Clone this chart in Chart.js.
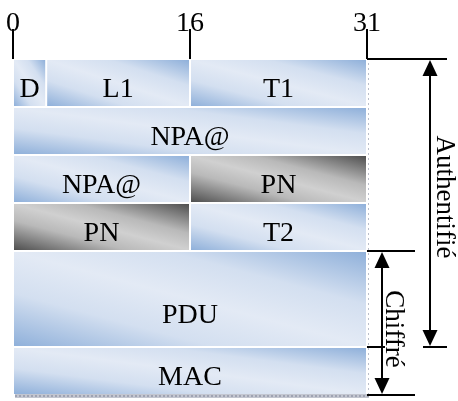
<!DOCTYPE html>
<html>
<head>
<meta charset="utf-8">
<title>Format de trame</title>
<script src="https://cdn.jsdelivr.net/npm/chart.js@4.4.1/dist/chart.umd.min.js"></script>
<style>
  html, body { margin: 0; padding: 0; background: #fff; }
  #frame { width: 458px; height: 401px; }
</style>
</head>
<body>
<div id="frame"><canvas id="trame" width="458" height="401"></canvas></div>
<script>
// Champs de la trame : bits 0..31 en x, lignes de 32 bits en y
const fieldLabels   = ['D', 'L1', 'T1', 'NPA@', 'NPA@', 'PN', 'PN', 'T2', 'PDU', 'MAC'];
const fieldBitStart = [0, 3, 16, 0, 0, 16, 0, 16, 0, 0];
const fieldBitEnd   = [3, 16, 32, 32, 16, 32, 16, 32, 32, 32];
const fieldRowStart = [0, 0, 0, 1, 2, 2, 3, 3, 4, 6];
const fieldRowEnd   = [1, 1, 1, 2, 3, 3, 4, 4, 6, 7];
const grayFields    = ['PN'];

// Graduations du haut
const bitTicks      = [0, 16, 32];
const bitTickLabels = ['0', '16', '31'];

// Zones authentifiée / chiffrée (en lignes)
const spanLabels = ['Authentifié', 'Chiffré'];
const spanStart  = [0, 4];
const spanEnd    = [6, 7];

const SERIF = '"Liberation Serif", "Times New Roman", serif';

const BLUE_STOPS = [[0, '#8fb0da'], [0.28, '#d3dff0'], [0.5, '#e3eaf5'], [0.72, '#d3dff0'], [1, '#8fb0da']];
const GRAY_STOPS = [[0, '#4f4f4f'], [0.32, '#b9b9b9'], [0.5, '#d0d0d0'], [0.68, '#b9b9b9'], [1, '#4f4f4f']];

// gradient diagonal etire sur la forme (comme les degrades Office)
function fillGradientBox(ctx, x, y, w, h, stops) {
    ctx.save();
    ctx.translate(x, y);
    ctx.scale(w, h);
    const g = ctx.createLinearGradient(0, 1, 1, 0);
    stops.forEach(s => g.addColorStop(s[0], s[1]));
    ctx.fillStyle = g;
    ctx.fillRect(0, 0, 1, 1);
    ctx.restore();
}

function arrowHead(ctx, x, tipY, dir) { // dir -1 = vers le haut, 1 = vers le bas
    ctx.beginPath();
    ctx.moveTo(x, tipY);
    ctx.lineTo(x - 7.5, tipY - dir * 16);
    ctx.lineTo(x + 7.5, tipY - dir * 16);
    ctx.closePath();
    ctx.fill();
}

const framePlugin = {
    id: 'frameFields',
    beforeDatasetsDraw(chart) {
        const ctx = chart.ctx;
        const xs = chart.scales.x, ys = chart.scales.y;
        const area = chart.chartArea;

        // ombre (bas + droite)
        ctx.save();
        ctx.fillStyle = '#c3c6d0';
        ctx.fillRect(area.left + 2, area.bottom - 1, area.right - area.left, 4);
        ctx.fillStyle = '#9fa3b2';
        for (let px = area.left + 2; px < area.right + 2; px += 4) {
            ctx.fillRect(px, area.bottom, 2, 2);
        }
        ctx.strokeStyle = '#b9bdc9';
        ctx.setLineDash([2, 3]);
        ctx.beginPath();
        ctx.moveTo(area.right + 1.5, area.top + 4);
        ctx.lineTo(area.right + 1.5, area.bottom);
        ctx.stroke();
        ctx.restore();

        fieldLabels.forEach((label, i) => {
            const x0 = xs.getPixelForValue(fieldBitStart[i]);
            const x1 = xs.getPixelForValue(fieldBitEnd[i]);
            const y0 = ys.getPixelForValue(fieldRowStart[i]);
            const y1 = ys.getPixelForValue(fieldRowEnd[i]);
            const stops = grayFields.includes(label) ? GRAY_STOPS : BLUE_STOPS;
            fillGradientBox(ctx, x0 + 1, y0 + 1, x1 - x0 - 2, y1 - y0 - 2, stops);

            const extra = (fieldRowEnd[i] - fieldRowStart[i] - 1) * 10;
            ctx.save();
            ctx.fillStyle = '#000';
            ctx.font = '28px ' + SERIF;
            ctx.textAlign = 'center';
            ctx.textBaseline = 'alphabetic';
            ctx.fillText(label, (x0 + x1) / 2, (y0 + y1) / 2 + 14 + extra);
            ctx.restore();
        });
    },
    afterDraw(chart) {
        const ctx = chart.ctx;
        const ys = chart.scales.y;
        const right = chart.chartArea.right;
        // decalages des reperes a droite du cadre
        const lineOff  = [63, 15];
        const capFrom  = [[0, 56], [0, 0]];
        const capTo    = [80, 48];
        const textOff  = [70, 19];
        const textShift = [-6, 6];

        ctx.save();
        ctx.strokeStyle = '#000';
        ctx.fillStyle = '#000';
        ctx.lineWidth = 2;
        spanLabels.forEach((label, i) => {
            const y0 = ys.getPixelForValue(spanStart[i]);
            const y1 = ys.getPixelForValue(spanEnd[i]);
            const lx = right + lineOff[i];

            ctx.beginPath();
            ctx.moveTo(right + capFrom[i][0], y0); ctx.lineTo(right + capTo[i], y0);
            ctx.moveTo(right + capFrom[i][1], y1); ctx.lineTo(right + capTo[i], y1);
            ctx.moveTo(lx, y0 + 8); ctx.lineTo(lx, y1 - 8);
            ctx.stroke();
            arrowHead(ctx, lx, y0 + 1, -1);
            arrowHead(ctx, lx, y1 - 1, 1);

            ctx.save();
            ctx.translate(right + textOff[i], (y0 + y1) / 2 + textShift[i]);
            ctx.rotate(Math.PI / 2);
            ctx.font = '27px ' + SERIF;
            ctx.textAlign = 'center';
            ctx.textBaseline = 'alphabetic';
            ctx.fillText(label, 0, 0);
            ctx.restore();
        });
        // petit repere de fin de zone authentifiee cote chiffre
        const yAuthEnd = ys.getPixelForValue(spanEnd[0]);
        ctx.beginPath();
        ctx.moveTo(right, yAuthEnd);
        ctx.lineTo(right + 18, yAuthEnd);
        ctx.stroke();
        ctx.restore();
    }
};

const chart = new Chart(document.getElementById('trame'), {
    type: 'scatter',
    data: { datasets: [] },
    options: {
        responsive: false,
        animation: false,
        layout: { padding: { left: 13, right: 91, top: 0, bottom: 6 } },
        plugins: { legend: { display: false }, tooltip: { enabled: false } },
        scales: {
            x: {
                type: 'linear',
                position: 'top',
                min: 0,
                max: 32,
                afterBuildTicks: s => { s.ticks = bitTicks.map(v => ({ value: v })); },
                afterFit: s => { s.height = 59; },
                grid: { drawOnChartArea: false, drawTicks: true, tickLength: 30, color: '#000', lineWidth: 2 },
                border: { display: false },
                ticks: {
                    color: '#000',
                    font: { family: SERIF, size: 28, lineHeight: 1 },
                    padding: -9,
                    maxRotation: 0,
                    autoSkip: false,
                    callback: (v, i) => bitTickLabels[i]
                }
            },
            y: {
                type: 'linear',
                min: 0,
                max: 7,
                reverse: true,
                display: false
            }
        }
    },
    plugins: [framePlugin]
});
</script>
</body>
</html>
